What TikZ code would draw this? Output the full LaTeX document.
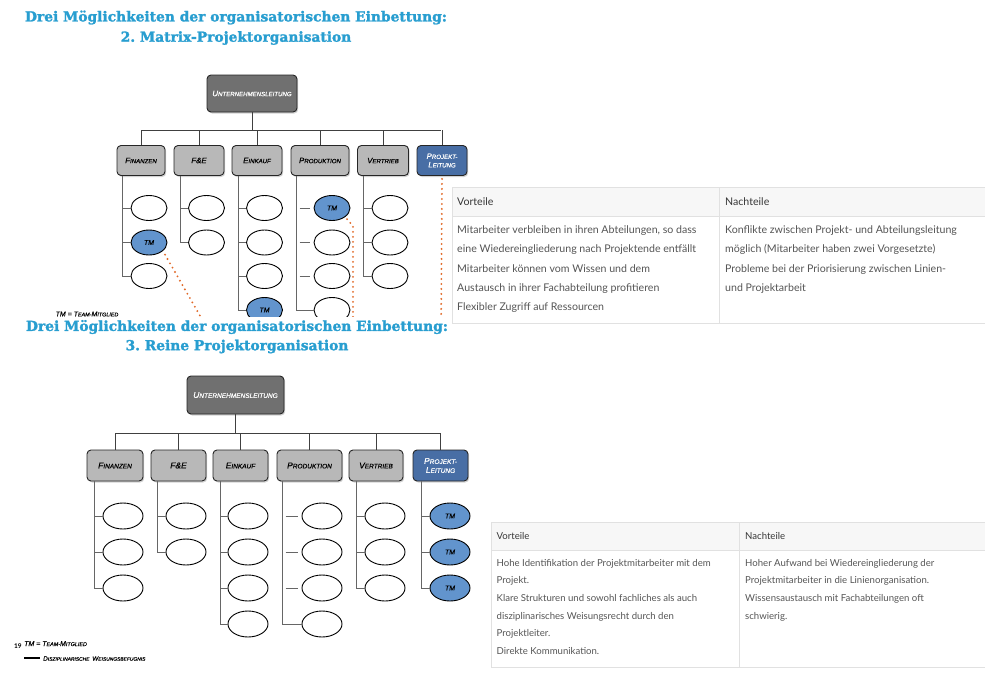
\documentclass[tikz,border=0pt]{standalone}
\usepackage{fontspec}
\setmainfont{Lato}
\newfontfamily\titlefont{DejaVu Serif}[BoldFeatures={FakeBold=1.6}]
\newfontfamily\orgfont{Liberation Sans}[ItalicFeatures={FakeBold=0.35}]
\usetikzlibrary{shapes.geometric,shadows}
\definecolor{titleblue}{RGB}{40,158,208}
\definecolor{darkbox}{RGB}{112,112,112}
\definecolor{deptgray}{RGB}{184,184,184}
\definecolor{plblue}{RGB}{72,110,165}
\definecolor{tmblue}{RGB}{98,148,205}
\definecolor{dotorange}{RGB}{225,105,40}
\definecolor{tblline}{RGB}{225,225,225}
\definecolor{tblhead}{RGB}{247,247,247}
\definecolor{tbltext}{RGB}{85,85,85}
\definecolor{tblhtext}{RGB}{55,55,55}
\newcommand\ocA[2]{{\fontsize{7.9}{8}\selectfont #1}{\fontsize{6.1}{8}\selectfont #2}}
\newcommand\ocB[2]{{\fontsize{8.5}{9}\selectfont #1}{\fontsize{6.5}{9}\selectfont #2}}
\newcommand\ocL[2]{{\fontsize{7}{8}\selectfont #1}{\fontsize{5.4}{8}\selectfont #2}}
\tikzset{
  box/.style={rounded corners=4pt, draw=black!85, line width=0.9pt, inner sep=1pt,
    align=center, font=\orgfont\itshape,
    drop shadow={shadow xshift=1.2pt, shadow yshift=-1.5pt, opacity=0.35}},
  lead/.style={box, fill=darkbox, text=white},
  dept/.style={box, fill=deptgray, text=black},
  plead/.style={box, fill=plblue, text=white},
  emp/.style={ellipse, draw=black, line width=0.9pt, fill=white, inner sep=0pt,
    font=\orgfont\itshape\fontsize{7}{7}\selectfont},
  tmemp/.style={emp, fill=tmblue},
  conn/.style={draw=black!75, line width=0.9pt},
  branch/.style={draw=black!60, line width=0.9pt},
  mdots/.style={draw=dotorange, line width=2.1pt, dash pattern=on 0pt off 5pt, line cap=round},
  ttl/.style={font=\titlefont\bfseries\fontsize{13.8}{15}\selectfont, text=titleblue, inner sep=0pt},
  tbl/.style={draw=tblline, line width=0.8pt},
  thdA/.style={font=\fontsize{10.6}{12}\selectfont, text=tblhtext, inner sep=0pt, anchor=west},
  tcellA/.style={font=\fontsize{10.6}{19.3}\selectfont, text=tbltext, inner sep=0pt, anchor=north west, align=left},
  thdB/.style={font=\fontsize{9.6}{11}\selectfont, text=tblhtext, inner sep=0pt, anchor=west},
  tcellB/.style={font=\fontsize{9.6}{17.6}\selectfont, text=tbltext, inner sep=0pt, anchor=north west, align=left},
}
\frenchspacing
\begin{document}
\begin{tikzpicture}[x=1pt,y=-1pt]
\useasboundingbox (0,0) rectangle (985,694);
\fill[white] (0,0) rectangle (985,694);

% ================= upper slide (cut off at y=316) =================
\begin{scope}
\clip (0,0) rectangle (985,316);
\node[ttl] (ttitle1) at (236,17.5) {Drei Möglichkeiten der organisatorischen Einbettung:};
\node[ttl] (ttitle2) at (236,38) {2. Matrix-Projektorganisation};

\node[lead, minimum width=90pt, minimum height=37pt] (tu) at (252,93.5) {\ocA{U}{NTERNEHMENSLEITUNG}};
\node[dept, minimum width=48pt, minimum height=30pt] (tf)  at (141,160.5) {\ocA{F}{INANZEN}};
\node[dept, minimum width=50pt, minimum height=30pt] (tfe) at (199,160.5) {\ocA{F\&E}{}};
\node[dept, minimum width=50pt, minimum height=30pt] (te)  at (257,160.5) {\ocA{E}{INKAUF}};
\node[dept, minimum width=58pt, minimum height=30pt] (tp)  at (320,160.5) {\ocA{P}{RODUKTION}};
\node[dept, minimum width=51pt, minimum height=30pt] (tv)  at (383,160.5) {\ocA{V}{ERTRIEB}};
\node[plead, minimum width=50pt, minimum height=30pt, font=\orgfont\itshape\fontsize{6}{8.5}\selectfont] (tpl) at (442,160.5) {\ocA{P}{ROJEKT-}\\\ocA{L}{EITUNG}};

\coordinate (tbarL) at (141,130);
\coordinate (tbarR) at (441,130);
\draw[conn] (tu.south) -- (tu.south |- tbarL);
\draw[conn] (tbarL) -- (tbarR);
\foreach \d in {tf,tfe,te,tp,tv,tpl} \draw[conn] (\d.north) -- (\d.north |- tbarL);

% employees
\node[emp, minimum width=36pt, minimum height=25pt] (tf1) at (149,208) {};
\node[tmemp, minimum width=36pt, minimum height=25pt] (tf2) at (149,242.5) {TM};
\node[emp, minimum width=36pt, minimum height=25pt] (tf3) at (149,276) {};
\node[emp, minimum width=36pt, minimum height=25pt] (tfe1) at (206.5,208) {};
\node[emp, minimum width=36pt, minimum height=25pt] (tfe2) at (206.5,242.5) {};
\node[emp, minimum width=36pt, minimum height=25pt] (te1) at (264.5,208) {};
\node[emp, minimum width=36pt, minimum height=25pt] (te2) at (264.5,242.5) {};
\node[emp, minimum width=36pt, minimum height=25pt] (te3) at (264.5,276) {};
\node[tmemp, minimum width=36pt, minimum height=25pt] (te4) at (264.5,310) {TM};
\node[tmemp, minimum width=36pt, minimum height=25pt] (tp1) at (332,208) {TM};
\node[emp, minimum width=36pt, minimum height=25pt] (tp2) at (332,242.5) {};
\node[emp, minimum width=36pt, minimum height=25pt] (tp3) at (332,276) {};
\node[emp, minimum width=36pt, minimum height=25pt] (tp4) at (332,310) {};
\node[emp, minimum width=36pt, minimum height=25pt] (tv1) at (390,208) {};
\node[emp, minimum width=36pt, minimum height=25pt] (tv2) at (390,242.5) {};
\node[emp, minimum width=36pt, minimum height=25pt] (tv3) at (390,276) {};

\coordinate (tfv) at (122,175.5);
\coordinate (tfev) at (180,175.5);
\coordinate (tev) at (238,175.5);
\coordinate (tpv) at (296,175.5);
\coordinate (tvv) at (363,175.5);
\draw[branch] (tfv) |- (tf3.west);
\foreach \r in {1,2} \draw[branch] (tfv |- tf\r.west) -- (tf\r.west);
\draw[branch] (tfev) |- (tfe2.west);
\draw[branch] (tfev |- tfe1.west) -- (tfe1.west);
\draw[branch] (tev) |- (te4.west);
\foreach \r in {1,2,3} \draw[branch] (tev |- te\r.west) -- (te\r.west);
\draw[branch] (tpv) |- (tp4.west);
\foreach \r in {1,2,3} \draw[branch] ([xshift=3.5pt]tpv |- tp\r.west) -- ([xshift=-4pt]tp\r.west);
\draw[branch] (tvv) |- (tv3.west);
\foreach \r in {1,2} \draw[branch] (tvv |- tv\r.west) -- (tv\r.west);

% matrix relations
\coordinate (tmeet1) at (215,342);
\coordinate (tmeet2) at (353,342);
\coordinate (tmeet3) at (441,342);
\draw[mdots] ([shift={(3pt,-3pt)}]tf2.south east) -- (tmeet1);
\draw[mdots] ([shift={(2pt,-2pt)}]tp1.south east) -- (353,226) -- (tmeet2);
\draw[mdots] ([yshift=-3pt]tpl.south) -- (tmeet3);

\node[inner sep=0pt, font=\orgfont\itshape] (tlegend) at (87,314) {\ocL{TM = T}{EAM-}\ocL{M}{ITGLIED}};
\end{scope}

% ================= table 1 =================
\fill[tblhead] (452,187) rectangle (985,216);
\draw[tbl] (985,187) -- (452,187) -- (452,323) -- (985,323);
\draw[tbl] (452,216) -- (985,216);
\draw[tbl] (719,187) -- (719,323);
\node[thdA] (t1h1) at (457,201.5) {Vorteile};
\node[thdA] (t1h2) at (725,201.5) {Nachteile};
\node[tcellA] (t1c1) at (457,225.5) {Mitarbeiter verbleiben in ihren Abteilungen, so dass\\
eine Wiedereingliederung nach Projektende entfällt\\
Mitarbeiter können vom Wissen und dem\\
Austausch in ihrer Fachabteilung profitieren\\
Flexibler Zugriff auf Ressourcen};
\node[tcellA] (t1c2) at (725,225.5) {Konflikte zwischen Projekt- und Abteilungsleitung\\
möglich (Mitarbeiter haben zwei Vorgesetzte)\\
Probleme bei der Priorisierung zwischen Linien-\\
und Projektarbeit};

% ================= lower slide =================
\node[ttl] (btitle1) at (237,327) {Drei Möglichkeiten der organisatorischen Einbettung:};
\node[ttl] (btitle2) at (237,346.5) {3. Reine Projektorganisation};

\node[lead, minimum width=97pt, minimum height=38pt] (bu) at (235.5,395) {\ocB{U}{NTERNEHMENSLEITUNG}};
\node[dept, minimum width=56pt, minimum height=31pt] (bf)  at (115,465.5) {\ocB{F}{INANZEN}};
\node[dept, minimum width=55pt, minimum height=31pt] (bfe) at (178.5,465.5) {\ocB{F\&E}{}};
\node[dept, minimum width=55pt, minimum height=31pt] (be)  at (240.5,465.5) {\ocB{E}{INKAUF}};
\node[dept, minimum width=65pt, minimum height=31pt] (bp)  at (309.5,465.5) {\ocB{P}{RODUKTION}};
\node[dept, minimum width=54pt, minimum height=31pt] (bv)  at (376,465.5) {\ocB{V}{ERTRIEB}};
\node[plead, minimum width=55pt, minimum height=31pt, font=\orgfont\itshape\fontsize{6.5}{9}\selectfont] (bpl) at (440.5,465.5) {\ocB{P}{ROJEKT-}\\\ocB{L}{EITUNG}};

\coordinate (bbarL) at (115,433);
\coordinate (bbarR) at (440.5,433);
\draw[conn] (bu.south) -- (bu.south |- bbarL);
\draw[conn] (bbarL) -- (bbarR);
\foreach \d in {bf,bfe,be,bp,bv,bpl} \draw[conn] (\d.north) -- (\d.north |- bbarL);

\foreach \r/\y in {1/516,2/552,3/588} \node[emp, minimum width=40pt, minimum height=26pt] (bf\r) at (123,\y) {};
\foreach \r/\y in {1/516,2/552} \node[emp, minimum width=40pt, minimum height=26pt] (bfe\r) at (186,\y) {};
\foreach \r/\y in {1/516,2/552,3/588,4/624} \node[emp, minimum width=40pt, minimum height=26pt] (be\r) at (248,\y) {};
\foreach \r/\y in {1/516,2/552,3/588,4/624} \node[emp, minimum width=40pt, minimum height=26pt] (bp\r) at (322,\y) {};
\foreach \r/\y in {1/516,2/552,3/588} \node[emp, minimum width=40pt, minimum height=26pt] (bv\r) at (385,\y) {};
\foreach \r/\y in {1/516,2/552,3/588} \node[tmemp, minimum width=40pt, minimum height=26pt] (bpl\r) at (450,\y) {TM};

\coordinate (bfv) at (94,481);
\coordinate (bfev) at (157,481);
\coordinate (bev) at (220,481);
\coordinate (bpv) at (282,481);
\coordinate (bvv) at (356,481);
\coordinate (bplv) at (421,481);
\draw[branch] (bfv) |- (bf3.west);
\foreach \r in {1,2} \draw[branch] (bfv |- bf\r.west) -- (bf\r.west);
\draw[branch] (bfev) |- (bfe2.west);
\draw[branch] (bfev |- bfe1.west) -- (bfe1.west);
\draw[branch] (bev) |- (be4.west);
\foreach \r in {1,2,3} \draw[branch] (bev |- be\r.west) -- (be\r.west);
\draw[branch] (bpv) |- (bp4.west);
\foreach \r in {1,2,3} \draw[branch] ([xshift=3.5pt]bpv |- bp\r.west) -- ([xshift=-4pt]bp\r.west);
\draw[branch] (bvv) |- (bv3.west);
\foreach \r in {1,2} \draw[branch] (bvv |- bv\r.west) -- (bv\r.west);
\draw[branch] (bplv) |- (bpl3.west);
\foreach \r in {1,2} \draw[branch] (bplv |- bpl\r.west) -- (bpl\r.west);

% legend
\node[inner sep=0pt, font=\bfseries\fontsize{6.5}{7}\selectfont, anchor=base west] (pgno) at (14,648) {19};
\node[inner sep=0pt, font=\orgfont\itshape, anchor=base west] (blegend1) at (24,646) {\ocL{TM = T}{EAM-}\ocL{M}{ITGLIED}};
\coordinate (lgA) at (24,658);
\coordinate (lgB) at (40,658);
\draw[line width=1.4pt, black] (lgA) -- (lgB);
\node[inner sep=0pt, font=\orgfont\itshape, anchor=west] (blegend2) at (43,658.5) {{\fontsize{6.4}{8}\selectfont D}{\fontsize{4.9}{8}\selectfont ISZIPLINARISCHE} {\fontsize{6.4}{8}\selectfont W}{\fontsize{4.9}{8}\selectfont EISUNGSBEFUGNIS}};

% ================= table 2 =================
\fill[tblhead] (491,522) rectangle (985,550);
\draw[tbl] (985,522) -- (491,522) -- (491,667) -- (985,667);
\draw[tbl] (491,550) -- (985,550);
\draw[tbl] (739,522) -- (739,667);
\node[thdB] (t2h1) at (496.5,536) {Vorteile};
\node[thdB] (t2h2) at (745,536) {Nachteile};
\node[tcellB] (t2c1) at (496.5,559) {Hohe Identifikation der Projektmitarbeiter mit dem\\
Projekt.\\
Klare Strukturen und sowohl fachliches als auch\\
disziplinarisches Weisungsrecht durch den\\
Projektleiter.\\
Direkte Kommunikation.};
\node[tcellB] (t2c2) at (745,559) {Hoher Aufwand bei Wiedereingliederung der\\
Projektmitarbeiter in die Linienorganisation.\\
Wissensaustausch mit Fachabteilungen oft\\
schwierig.};
\end{tikzpicture}
\end{document}
